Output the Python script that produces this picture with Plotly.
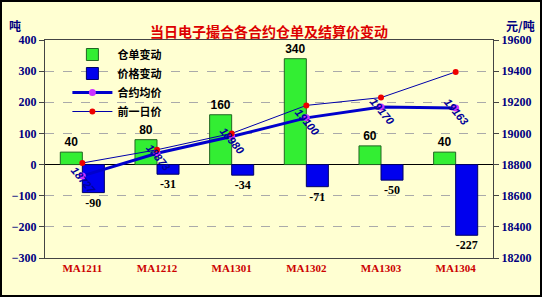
import plotly.graph_objects as go

categories = ["MA1211", "MA1212", "MA1301", "MA1302", "MA1303", "MA1304"]
warrant_change = [40, 80, 160, 340, 60, 40]
price_change = [-90, -31, -34, -71, -50, -227]
avg_price = [18727, 18873, 18980, 19100, 19170, 19163]
prev_price = [18810, 18895, 19000, 19180, 19230, 19395]

W, H = 542, 297
L, R, T, B = 45, 49, 40, 39
pw, ph = W - L - R, H - T - B

bold = dict(family="Times New Roman, Liberation Serif, serif", size=12, color="#000080")

fig = go.Figure()
fig.add_trace(go.Bar(
    x=categories, y=warrant_change, name="<b>仓单变动</b>",
    marker=dict(color="#33EE33", line=dict(color="#226622", width=1)),
    text=["<b>%d</b>" % v for v in warrant_change], textposition="outside",
    textfont=dict(family="Arial, Liberation Sans", size=12, color="black"),
    cliponaxis=False,
))
fig.add_trace(go.Bar(
    x=categories, y=price_change, name="<b>价格变动</b>",
    marker=dict(color="#0000EE", line=dict(color="#000066", width=1)),
    text=["<b>%d</b>" % v for v in price_change], textposition="outside",
    textfont=dict(family="Times New Roman, Liberation Serif", size=12, color="black"),
    cliponaxis=False,
))
fig.add_trace(go.Scatter(
    x=categories, y=avg_price, name="<b>合约均价</b>", yaxis="y2", mode="lines+markers",
    line=dict(color="#0000CC", width=3),
    marker=dict(color="#CC33FF", size=7),
))
fig.add_trace(go.Scatter(
    x=categories, y=prev_price, name="<b>前一日价</b>", yaxis="y2", mode="lines+markers",
    line=dict(color="#0000AA", width=1),
    marker=dict(color="#EE0000", size=6),
))

annotations = []
for c, v in zip(categories, avg_price):
    annotations.append(dict(
        x=c, y=v, xref="x", yref="y2", text="<b><i>%d</i></b>" % v,
        showarrow=False, textangle=50, yshift=-4, xshift=1,
        font=dict(family="Arial, Liberation Sans", size=11, color="#000099"),
    ))
annotations += [
    dict(x=0.5, y=1 + 21 / ph, xref="paper", yref="paper",
         text="<b>当日电子撮合各合约仓单及结算价变动</b>", showarrow=False,
         font=dict(family="Noto Sans CJK SC", size=14, color="#DD0000")),
    dict(x=-38 / pw, y=1 + 25 / ph, xref="paper", yref="paper", xanchor="left",
         text="<b>吨</b>", showarrow=False,
         font=dict(family="Noto Sans CJK SC", size=12, color="#000080")),
    dict(x=(W - 5 - L) / pw, y=1 + 25 / ph, xref="paper", yref="paper", xanchor="right",
         text="<b>元/吨</b>", showarrow=False,
         font=dict(family="Noto Sans CJK SC", size=12, color="#000080")),
]

fig.update_layout(
    width=W, height=H,
    margin=dict(l=L, r=R, t=T, b=B),
    paper_bgcolor="#FFFFD2", plot_bgcolor="#FFFFD2",
    barmode="group", bargap=0.41, bargroupgap=0,
    showlegend=True,
    legend=dict(x=0.05, y=1.0, xanchor="left", yanchor="top",
                bgcolor="rgba(0,0,0,0)", tracegroupgap=0, itemwidth=40,
                font=dict(family="Noto Sans CJK SC", size=11, color="black")),
    xaxis=dict(
        tickfont=dict(family="Times New Roman, Liberation Serif", size=11, color="#CC0000"),
        showline=True, linecolor="#444", mirror=True, ticks="", showgrid=False,
        tickprefix="<b>", ticksuffix="</b>",
    ),
    yaxis=dict(
        range=[-300, 400], dtick=100, tickfont=bold,
        tickprefix="<b>", ticksuffix="</b>",
        showline=True, linecolor="#444", ticks="outside", ticklen=5, tickcolor="#444",
        showgrid=True, gridcolor="#AAAAAA", griddash="dash", gridwidth=1,
        zeroline=True, zerolinecolor="black", zerolinewidth=1,
    ),
    yaxis2=dict(
        range=[18200, 19600], dtick=200, overlaying="y", side="right",
        tickformat="d",
        tickfont=bold, tickprefix="<b>", ticksuffix="</b>",
        showline=True, linecolor="#444", ticks="outside", ticklen=5, tickcolor="#444",
        showgrid=False, zeroline=False,
    ),
    annotations=annotations,
    shapes=[dict(type="rect", xref="paper", yref="paper",
                 x0=-(L - 1) / pw, x1=1 + (R - 1) / pw,
                 y0=-(B - 1) / ph, y1=1 + (T - 1) / ph,
                 line=dict(color="black", width=2))],
)

fig.write_html("out.html")
